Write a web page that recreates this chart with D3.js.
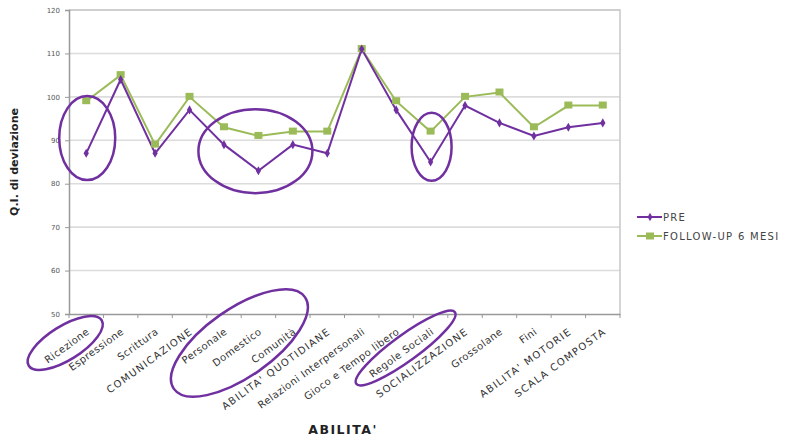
<!DOCTYPE html>
<html><head><meta charset="utf-8">
<script src="https://cdn.jsdelivr.net/npm/d3@7"></script>
<style>body{margin:0;background:#fff}svg{display:block}</style>
</head><body><svg id="c" width="798" height="438"></svg>
<script>
const categories = ["Ricezione","Espressione","Scrittura","COMUNICAZIONE","Personale","Domestico","Comunità","ABILITA' QUOTIDIANE","Relazioni Interpersonali","Gioco e Tempo libero","Regole Sociali","SOCIALIZZAZIONE","Grossolane","Fini","ABILITA' MOTORIE","SCALA COMPOSTA"];
const pre = [87,104,87,97,89,83,89,87,111,97,85,98,94,91,93,94];
const followUp = [99,105,89,100,93,91,92,92,111,99,92,100,101,93,98,98];
const yTicks = [50,60,70,80,90,100,110,120];
const seriesNames = ["PRE","FOLLOW-UP 6 MESI"];

const svg = d3.select("#c");
const L=69,R=620,T=10,B=314;
const x = d3.scaleBand().domain(categories).range([L,R]).padding(0);
const y = d3.scaleLinear().domain([50,120]).range([B,T]);
const cx = c => x(c)+x.bandwidth()/2;
const purple="#7030A0", green="#9BBB59";

// gridlines
svg.append("g").selectAll("line").data(yTicks.slice(1)).join("line")
  .attr("x1",L).attr("x2",R).attr("y1",d=>y(d)).attr("y2",d=>y(d))
  .attr("stroke","#dcdcdc").attr("stroke-width",1.6);
// plot frame (right + top)
svg.append("path").attr("d",`M${L},${T}H${R}V${B}`).attr("fill","none").attr("stroke","#c8c8c8").attr("stroke-width",1.5);

// y axis
const ya = svg.append("g").attr("transform",`translate(${L},0)`)
  .call(d3.axisLeft(y).tickValues(yTicks).tickSize(4).tickPadding(5));
ya.select(".domain").attr("stroke","#999").attr("stroke-width",1.5);
ya.selectAll(".tick line").attr("stroke","#999");
ya.selectAll("text").attr("font-family","DejaVu Sans").attr("font-size",7).attr("fill","#555");

// x axis
const xa = svg.append("g").attr("transform",`translate(0,${B})`)
  .call(d3.axisBottom(x).tickSize(0).tickFormat(""));
xa.select(".domain").attr("stroke","#999").attr("stroke-width",1.5);
xa.selectAll(".tick").remove();
const bounds = categories.map(c=>x(c)).concat([R]);
svg.append("g").selectAll("line").data(bounds).join("line")
  .attr("x1",d=>d).attr("x2",d=>d).attr("y1",B).attr("y2",B+4).attr("stroke","#999");

// category labels
svg.append("g").selectAll("text").data(categories).join("text")
  .attr("transform",d=>`translate(${cx(d)+4},${B+19}) rotate(-36)`)
  .attr("text-anchor","end").attr("font-family","DejaVu Sans").attr("font-size",10)
  .attr("letter-spacing",d=>d===d.toUpperCase()?1.3:0.5).attr("fill","#333").text(d=>d);

// lines
const line = d3.line().x((d,i)=>cx(categories[i])).y(d=>y(d));
svg.append("path").datum(followUp).attr("d",line).attr("fill","none").attr("stroke",green).attr("stroke-width",2);
svg.append("path").datum(pre).attr("d",line).attr("fill","none").attr("stroke",purple).attr("stroke-width",2);
svg.append("g").selectAll("rect").data(followUp).join("rect")
  .attr("x",(d,i)=>cx(categories[i])-4).attr("y",d=>y(d)-4).attr("width",8).attr("height",7).attr("fill",green);
svg.append("g").selectAll("path").data(pre).join("path")
  .attr("d",d3.symbol(d3.symbolDiamond,24)).attr("transform",(d,i)=>`translate(${cx(categories[i])},${y(d)})`).attr("fill",purple);

// annotation ellipses
const ell = (x0,y0,rx,ry,rot)=>svg.append("ellipse").attr("cx",0).attr("cy",0).attr("rx",rx).attr("ry",ry)
  .attr("transform",`translate(${x0},${y0}) rotate(${rot})`).attr("fill","none").attr("stroke",purple).attr("stroke-width",2.5);
ell(cx("Ricezione")+1, y(90.5), 28, 42, 0);
ell(cx("Domestico")-3, y(87.5), 57, 42, 0);
ell(cx("Regole Sociali")+1, y(88.5), 20, 34, 0);
ell(cx("Ricezione")-21, B+29, 43, 17, -32);
ell(cx("Domestico")-19, B+29, 80, 34, -35);
ell(cx("Regole Sociali")-25, B+34, 61, 13, -36);

// axis titles
svg.append("text").attr("transform",`translate(18,${y(85)}) rotate(-90)`).attr("text-anchor","middle")
  .attr("font-family","DejaVu Sans").attr("font-weight","bold").attr("font-size",11).attr("fill","#222").text("Q.I. di deviazione");
svg.append("text").attr("x",343).attr("y",434).attr("text-anchor","middle")
  .attr("font-family","DejaVu Sans").attr("font-weight","bold").attr("font-size",12.5).attr("letter-spacing",1.5).attr("fill","#222").text("ABILITA'");

// legend
const lg = svg.append("g");
[[purple,"diamond"],[green,"square"]].forEach(([col,m],i)=>{
  const yy = 217 + i*19;
  lg.append("line").attr("x1",637).attr("x2",662).attr("y1",yy).attr("y2",yy).attr("stroke",col).attr("stroke-width",2);
  if(m==="diamond") lg.append("path").attr("d",d3.symbol(d3.symbolDiamond,20)).attr("transform",`translate(650,${yy})`).attr("fill",col);
  else lg.append("rect").attr("x",646).attr("y",yy-3.5).attr("width",8).attr("height",7).attr("fill",col);
  lg.append("text").attr("x",663).attr("y",yy+3.5).attr("font-family","DejaVu Sans").attr("font-size",10).attr("letter-spacing",1.3).attr("fill","#444").text(seriesNames[i]);
});
</script></body></html>
